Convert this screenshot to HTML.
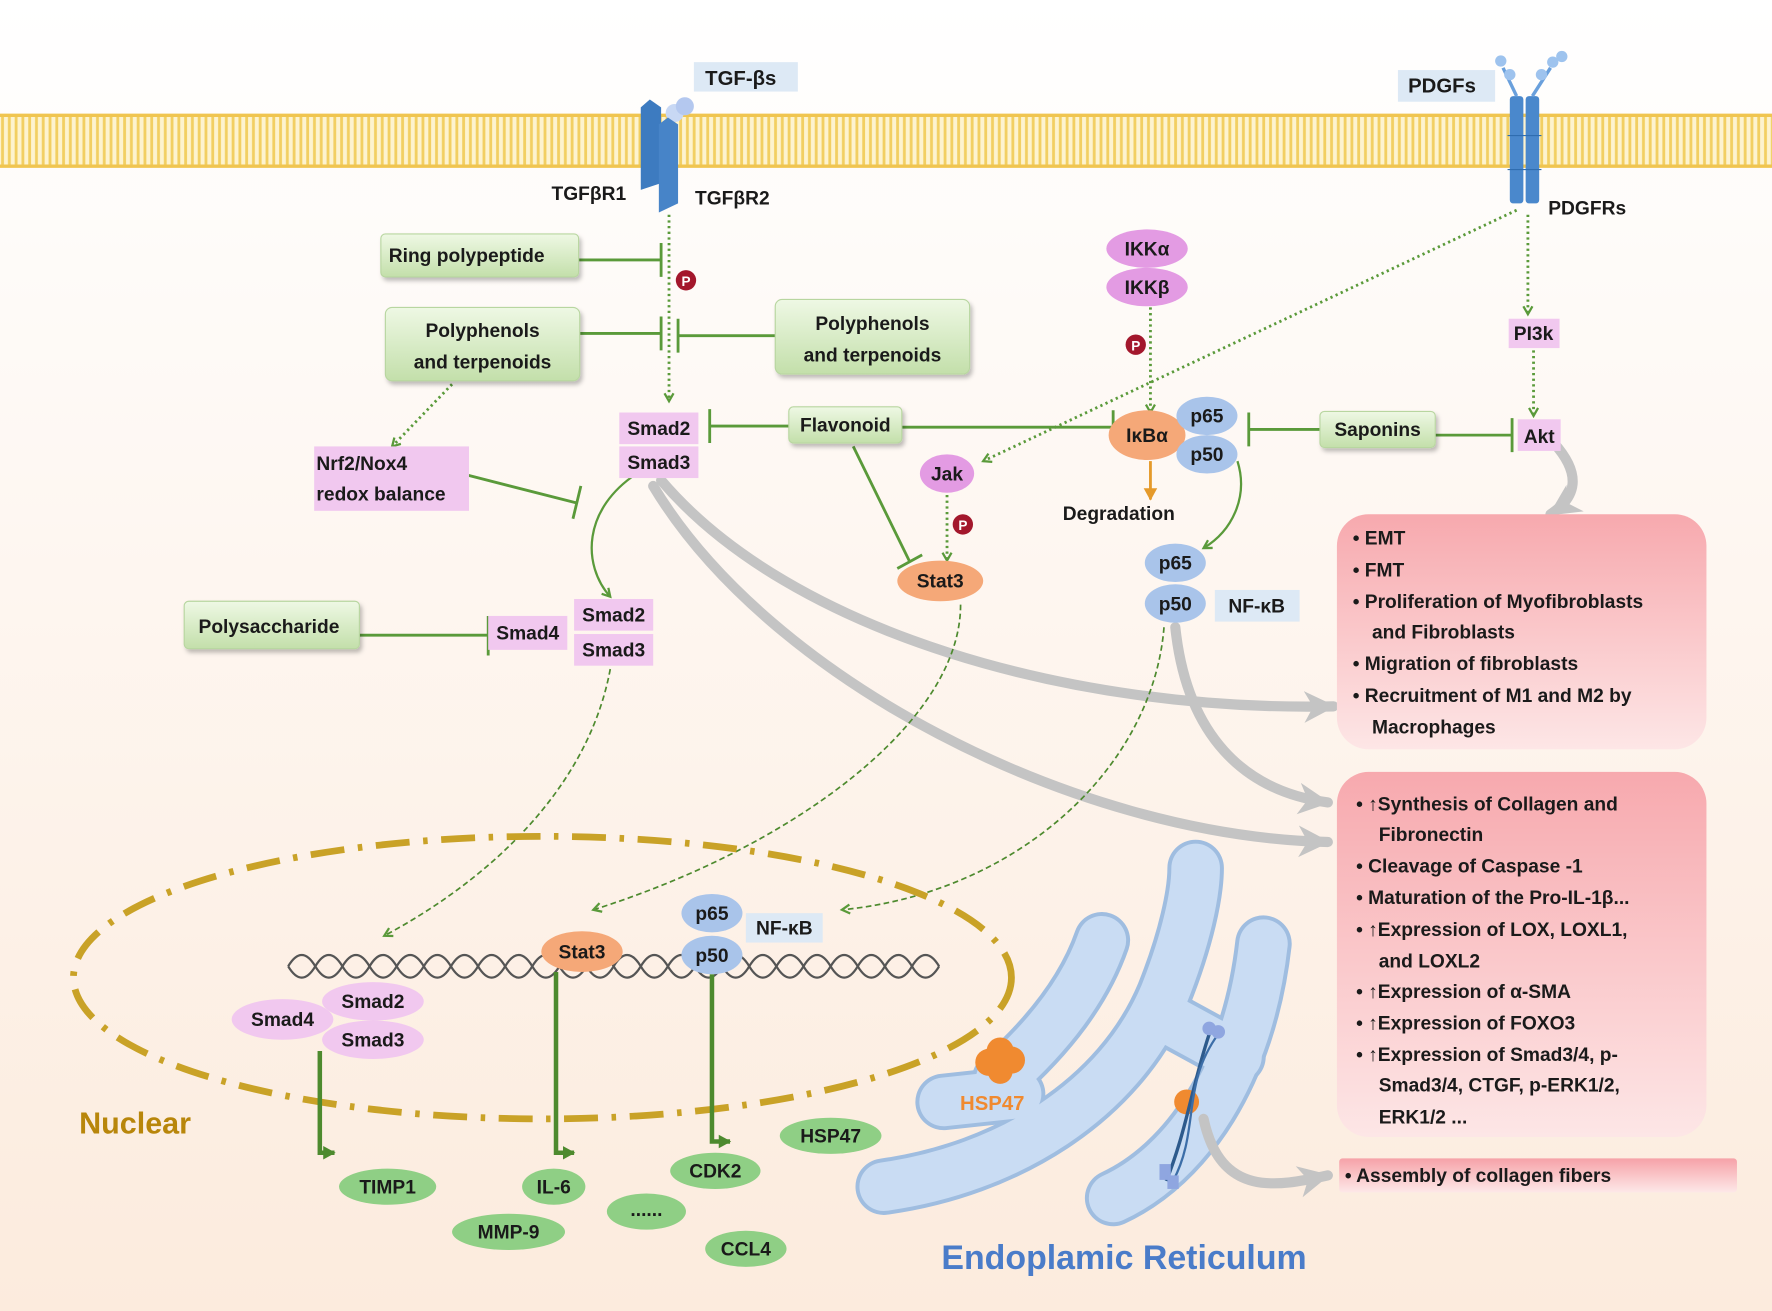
<!DOCTYPE html>
<html><head><meta charset="utf-8"><style>
html,body{margin:0;padding:0;background:#fff}
svg{display:block}
text{font-family:"Liberation Sans",sans-serif;font-weight:bold;fill:#1a1a1a}
</style></head><body>
<svg width="1772" height="1311" viewBox="0 0 1568 1160" preserveAspectRatio="none" xmlns="http://www.w3.org/2000/svg">
<defs>
<linearGradient id="bg" x1="0" y1="0" x2="0" y2="1"><stop offset="0" stop-color="#ffffff"/><stop offset="1" stop-color="#fcebdd"/></linearGradient>
<pattern id="mem" width="6" height="48" patternUnits="userSpaceOnUse"><rect width="6" height="48" fill="#fdf3cf"/><rect x="1" width="2.5" height="48" fill="#f2cf62"/></pattern>
<linearGradient id="gb" x1="0" y1="0" x2="0" y2="1"><stop offset="0" stop-color="#eef8e4"/><stop offset="1" stop-color="#c3dfaa"/></linearGradient>
<linearGradient id="rb" x1="0" y1="0" x2="0" y2="1"><stop offset="0" stop-color="#f7a9ae"/><stop offset="1" stop-color="#fde6e6"/></linearGradient>
<linearGradient id="rb2" x1="0" y1="0" x2="0" y2="1"><stop offset="0" stop-color="#f6a2a8"/><stop offset="1" stop-color="#fde8e8"/></linearGradient>
<marker id="ga" markerWidth="10" markerHeight="10" refX="8" refY="5" orient="auto" markerUnits="userSpaceOnUse"><path d="M1,1 L8,5 L1,9" fill="none" stroke="#5a9a3a" stroke-width="2"/></marker>
<marker id="gA" markerWidth="14" markerHeight="14" refX="10" refY="7" orient="auto" markerUnits="userSpaceOnUse"><path d="M0,1 L11,7 L0,13 Z" fill="#4d8a2e"/></marker>
<marker id="gr" markerWidth="40" markerHeight="40" refX="26" refY="20" orient="auto" markerUnits="userSpaceOnUse"><path d="M0,6 L28,20 L0,34 L8,20 Z" fill="#c4c4c4"/></marker>
<marker id="oa" markerWidth="14" markerHeight="14" refX="10" refY="7" orient="auto" markerUnits="userSpaceOnUse"><path d="M0,1 L11,7 L0,13 Z" fill="#e59a2a"/></marker>
<filter id="sh" x="-10%" y="-20%" width="130%" height="150%"><feDropShadow dx="2" dy="3" stdDeviation="2" flood-color="#000" flood-opacity="0.25"/></filter>
</defs>
<rect width="1568" height="1160" fill="url(#bg)"/>
<rect x="0" y="102" width="1568" height="45" fill="url(#mem)"/>
<line x1="0" y1="102" x2="1568" y2="102" stroke="#f0c550" stroke-width="3"/>
<line x1="0" y1="147" x2="1568" y2="147" stroke="#f0c550" stroke-width="3"/>
<circle cx="597" cy="100" r="8" fill="#c8d8f4"/><circle cx="606" cy="94" r="8" fill="#b4c8ef"/>
<path d="M567,95 L575,88 L585,95 L585,162 L567,168 Z" fill="#3d7bc0"/>
<path d="M583,110 L591,104 L600,110 L600,180 L583,188 Z" fill="#4784c8"/>
<rect x="614" y="55" width="92" height="26" fill="#dde9f5"/><text x="624" y="75" font-size="18">TGF-βs</text>
<text x="488" y="177" font-size="17">TGFβR1</text><text x="615" y="181" font-size="17">TGFβR2</text>
<g fill="#4a88cc">
<rect x="1336" y="85" width="12" height="95" rx="3"/><rect x="1350" y="85" width="12" height="95" rx="3"/>
</g>
<g stroke="#2f6db0" stroke-width="1"><line x1="1334" y1="120" x2="1364" y2="120"/><line x1="1334" y1="150" x2="1364" y2="150"/></g>
<g stroke="#6aa0dc" stroke-width="3" fill="none"><path d="M1342,85 L1330,60 M1356,85 L1372,60"/></g>
<g fill="#9ec3ee"><circle cx="1328" cy="54" r="5"/><circle cx="1336" cy="66" r="5"/><circle cx="1374" cy="55" r="5"/><circle cx="1364" cy="66" r="5"/><circle cx="1382" cy="50" r="5"/></g>
<rect x="1237" y="62" width="86" height="28" fill="#dde9f5"/><text x="1246" y="82" font-size="18">PDGFs</text>
<text x="1370" y="190" font-size="17">PDGFRs</text>
<g fill="none" stroke="#c4c4c4" stroke-width="9" stroke-linecap="round">
<path d="M585,425 C700,560 950,630 1180,625" marker-end="url(#gr)"/>
<path d="M578,430 C680,600 950,740 1175,745" marker-end="url(#gr)"/>
<path d="M1040,555 C1050,650 1100,700 1175,710" marker-end="url(#gr)"/>
<path d="M1375,392 C1400,420 1395,440 1372,455" marker-end="url(#gr)"/>
</g>
<g stroke="#5a9a3a" stroke-width="2.5" fill="none">
<path d="M512,230 L585,230 M585,215 L585,245"/>
<path d="M513,295 L585,295 M585,280 L585,310"/>
<path d="M686,297 L600,297 M600,282 L600,312"/>
<path d="M698,377 L628,377 M628,362 L628,392"/>
<path d="M798,378 L985,378 M985,363 L985,393"/>
<path d="M755,395 L805,497 M794,503 L816,491"/>
<path d="M1168,380 L1105,380 M1105,365 L1105,395"/>
<path d="M1270,385 L1338,385 M1338,370 L1338,400"/>
<path d="M412,420 L510,445 M514,430 L507,459"/>
<path d="M318,562 L432,562 M432,545 L432,580"/>
</g>
<g stroke="#5a9a3a" stroke-width="2.5" fill="none" stroke-dasharray="2 3">
<path d="M592,190 L592,355" marker-end="url(#ga)"/>
<path d="M400,340 L347,395" marker-end="url(#ga)"/>
<path d="M1342,186 L870,408" marker-end="url(#ga)"/>
<path d="M1352,190 L1352,278" marker-end="url(#ga)"/>
<path d="M1357,310 L1357,368" marker-end="url(#ga)"/>
<path d="M1018,272 L1018,365" marker-end="url(#ga)"/>
<path d="M838,438 L838,496" marker-end="url(#ga)"/>
</g>
<g stroke="#5a9a3a" stroke-width="2" fill="none">
<path d="M565,418 C515,450 515,500 540,528" marker-end="url(#ga)"/>
<path d="M1095,408 C1105,440 1090,470 1065,485" marker-end="url(#ga)"/>
</g>
<g stroke="#4d8a2e" stroke-width="1.5" fill="none" stroke-dasharray="5 3">
<path d="M540,592 C520,700 430,780 340,828" marker-end="url(#ga)"/>
<path d="M850,535 C850,640 700,750 525,805" marker-end="url(#ga)"/>
<path d="M1030,555 C1020,680 900,790 745,805" marker-end="url(#ga)"/>
</g>
<path d="M1018,408 L1018,442" stroke="#e59a2a" stroke-width="2.5" marker-end="url(#oa)"/>
<g filter="url(#sh)" fill="url(#gb)" stroke="#b8d6a0">
<rect x="337" y="207" width="175" height="38" rx="4"/>
<rect x="341" y="272" width="172" height="65" rx="6"/>
<rect x="686" y="265" width="172" height="66" rx="6"/>
<rect x="698" y="360" width="100" height="32" rx="4"/>
<rect x="1168" y="364" width="102" height="32" rx="4"/>
<rect x="163" y="532" width="155" height="42" rx="4"/>
</g>
<text x="344" y="232" font-size="17">Ring polypeptide</text>
<text x="427" y="298" font-size="17" text-anchor="middle">Polyphenols</text><text x="427" y="326" font-size="17" text-anchor="middle">and terpenoids</text>
<text x="772" y="292" font-size="17" text-anchor="middle">Polyphenols</text><text x="772" y="320" font-size="17" text-anchor="middle">and terpenoids</text>
<text x="748" y="382" font-size="17" text-anchor="middle">Flavonoid</text>
<text x="1219" y="386" font-size="17" text-anchor="middle">Saponins</text>
<text x="238" y="560" font-size="17" text-anchor="middle">Polysaccharide</text>
<g fill="#f1c8ef">
<rect x="548" y="365" width="70" height="28"/><rect x="548" y="395" width="70" height="28"/>
<rect x="278" y="395" width="137" height="57"/>
<rect x="432" y="545" width="70" height="30"/>
<rect x="508" y="530" width="70" height="28"/><rect x="508" y="561" width="70" height="28"/>
<rect x="1335" y="282" width="45" height="26"/><rect x="1343" y="371" width="38" height="28"/>
</g>
<text x="583" y="385" font-size="17" text-anchor="middle">Smad2</text><text x="583" y="415" font-size="17" text-anchor="middle">Smad3</text>
<text x="280" y="416" font-size="17">Nrf2/Nox4</text><text x="280" y="443" font-size="17">redox balance</text>
<text x="467" y="566" font-size="17" text-anchor="middle">Smad4</text>
<text x="543" y="550" font-size="17" text-anchor="middle">Smad2</text><text x="543" y="581" font-size="17" text-anchor="middle">Smad3</text>
<text x="1357" y="301" font-size="17" text-anchor="middle">PI3k</text><text x="1362" y="392" font-size="17" text-anchor="middle">Akt</text>
<ellipse cx="1015" cy="220" rx="36" ry="17" fill="#e39be3"/><text x="1015" y="226" font-size="17" text-anchor="middle">IKKα</text>
<ellipse cx="1015" cy="254" rx="36" ry="17" fill="#e39be3"/><text x="1015" y="260" font-size="17" text-anchor="middle">IKKβ</text>
<g fill="#a3172c"><circle cx="607" cy="248" r="9"/><circle cx="1005" cy="305" r="9"/><circle cx="852" cy="464" r="9"/></g>
<g font-size="12"><text x="607" y="253" text-anchor="middle" style="fill:#fff">P</text><text x="1005" y="310" text-anchor="middle" style="fill:#fff">P</text><text x="852" y="469" text-anchor="middle" style="fill:#fff">P</text></g>
<ellipse cx="1015" cy="385" rx="34" ry="22" fill="#f5a878"/><text x="1015" y="391" font-size="17" text-anchor="middle">IκBα</text>
<ellipse cx="1068" cy="368" rx="27" ry="17" fill="#a9c4ea"/><text x="1068" y="374" font-size="17" text-anchor="middle">p65</text>
<ellipse cx="1068" cy="402" rx="27" ry="17" fill="#a9c4ea"/><text x="1068" y="408" font-size="17" text-anchor="middle">p50</text>
<text x="990" y="460" font-size="17" text-anchor="middle">Degradation</text>
<ellipse cx="838" cy="419" rx="24" ry="17" fill="#e39be3"/><text x="838" y="425" font-size="17" text-anchor="middle">Jak</text>
<ellipse cx="832" cy="514" rx="38" ry="18" fill="#f5a878"/><text x="832" y="520" font-size="17" text-anchor="middle">Stat3</text>
<ellipse cx="1040" cy="498" rx="27" ry="17" fill="#a9c4ea"/><text x="1040" y="504" font-size="17" text-anchor="middle">p65</text>
<ellipse cx="1040" cy="534" rx="27" ry="17" fill="#a9c4ea"/><text x="1040" y="540" font-size="17" text-anchor="middle">p50</text>
<rect x="1075" y="522" width="75" height="28" fill="#dde9f5"/><text x="1112" y="542" font-size="17" text-anchor="middle">NF-κB</text>
<rect x="1183" y="455" width="327" height="208" rx="28" fill="url(#rb)"/>
<rect x="1183" y="683" width="327" height="323" rx="28" fill="url(#rb)"/>
<rect x="1185" y="1025" width="352" height="30" rx="3" fill="url(#rb2)"/>
<g font-size="17">
<text x="1197" y="482">•  EMT</text>
<text x="1197" y="510">•  FMT</text>
<text x="1197" y="538">•  Proliferation of Myofibroblasts</text>
<text x="1214" y="565">and Fibroblasts</text>
<text x="1197" y="593">•  Migration of fibroblasts</text>
<text x="1197" y="621">•  Recruitment of M1 and M2 by</text>
<text x="1214" y="649">Macrophages</text>
<text x="1200" y="717">•  ↑Synthesis of Collagen and</text>
<text x="1220" y="744">Fibronectin</text>
<text x="1200" y="772">•  Cleavage of Caspase -1</text>
<text x="1200" y="800">•  Maturation of the Pro-IL-1β...</text>
<text x="1200" y="828">•  ↑Expression of LOX, LOXL1,</text>
<text x="1220" y="856">and LOXL2</text>
<text x="1200" y="883">•  ↑Expression of α-SMA</text>
<text x="1200" y="911">•  ↑Expression of FOXO3</text>
<text x="1200" y="939">•  ↑Expression of Smad3/4, p-</text>
<text x="1220" y="966">Smad3/4, CTGF, p-ERK1/2,</text>
<text x="1220" y="994">ERK1/2 ...</text>
<text x="1190" y="1046">•  Assembly of collagen fibers</text>
</g>
<!-- ER built from stroked bands -->
<g fill="none" stroke-linecap="round" stroke-linejoin="round">
<g stroke="#9fbde0" stroke-width="50">
<path d="M782,1050 C890,1035 990,975 1030,880 C1050,830 1058,790 1058,768"/>
<path d="M835,975 L900,968"/>
<path d="M885,955 C930,915 960,875 975,832"/>
<path d="M985,1060 C1050,1030 1105,950 1118,835"/>
<path d="M1040,905 L1095,935"/>
</g>
<g stroke="#c9dcf3" stroke-width="43">
<path d="M782,1050 C890,1035 990,975 1030,880 C1050,830 1058,790 1058,768"/>
<path d="M835,975 L900,968"/>
<path d="M885,955 C930,915 960,875 975,832"/>
<path d="M985,1060 C1050,1030 1105,950 1118,835"/>
<path d="M1040,905 L1095,935"/>
</g>
</g>
<path d="M1065,990 C1080,1060 1130,1050 1175,1040" fill="none" stroke="#c4c4c4" stroke-width="9" stroke-linecap="round" marker-end="url(#gr)"/>
<g fill="#f08a30"><circle cx="875" cy="940" r="12"/><circle cx="895" cy="938" r="12"/><circle cx="885" cy="930" r="12"/><circle cx="885" cy="948" r="11"/><circle cx="1050" cy="975" r="11"/></g>
<path d="M1032,1045 C1050,1000 1055,960 1070,915" stroke="#2d5a8c" stroke-width="3" fill="none"/>
<path d="M1038,1045 C1062,1000 1045,960 1078,915" stroke="#3c6ea8" stroke-width="2" fill="none"/>
<g fill="#8fa6e0"><circle cx="1070" cy="910" r="6"/><circle cx="1078" cy="913" r="6"/><rect x="1026" y="1030" width="10" height="14"/><rect x="1033" y="1040" width="10" height="12"/></g>
<text x="878" y="982" font-size="18" text-anchor="middle" style="fill:#f08a30">HSP47</text>
<text x="833" y="1123" font-size="30" style="fill:#4a7cc9">Endoplamic Reticulum</text>
<ellipse cx="480" cy="865" rx="415" ry="125" fill="none" stroke="#c9a227" stroke-width="6" stroke-dasharray="30 12 4 12"/>
<path d="M255,855 q12,-20 24,0 t24,0 t24,0 t24,0 t24,0 t24,0 t24,0 t24,0 t24,0 t24,0 t24,0 t24,0 t24,0 t24,0 t24,0 t24,0 t24,0 t24,0 t24,0 t24,0 t24,0 t24,0 t24,0 t24,0" fill="none" stroke="#555" stroke-width="2"/>
<path d="M255,855 q12,20 24,0 t24,0 t24,0 t24,0 t24,0 t24,0 t24,0 t24,0 t24,0 t24,0 t24,0 t24,0 t24,0 t24,0 t24,0 t24,0 t24,0 t24,0 t24,0 t24,0 t24,0 t24,0 t24,0 t24,0" fill="none" stroke="#555" stroke-width="2"/>
<g stroke="#4d8a2e" stroke-width="4" fill="none">
<path d="M283,930 L283,1020 L296,1020" marker-end="url(#gA)"/>
<path d="M492,860 L492,1020 L508,1020" marker-end="url(#gA)"/>
<path d="M630,862 L630,1010 L646,1010" marker-end="url(#gA)"/>
</g>
<ellipse cx="250" cy="902" rx="45" ry="18" fill="#f1c8ef"/><text x="250" y="908" font-size="17" text-anchor="middle">Smad4</text>
<ellipse cx="330" cy="886" rx="45" ry="17" fill="#f1c8ef"/><text x="330" y="892" font-size="17" text-anchor="middle">Smad2</text>
<ellipse cx="330" cy="920" rx="45" ry="17" fill="#f1c8ef"/><text x="330" y="926" font-size="17" text-anchor="middle">Smad3</text>
<ellipse cx="515" cy="842" rx="36" ry="18" fill="#f5a878"/><text x="515" y="848" font-size="17" text-anchor="middle">Stat3</text>
<ellipse cx="630" cy="808" rx="27" ry="17" fill="#a9c4ea"/><text x="630" y="814" font-size="17" text-anchor="middle">p65</text>
<ellipse cx="630" cy="845" rx="27" ry="17" fill="#a9c4ea"/><text x="630" y="851" font-size="17" text-anchor="middle">p50</text>
<rect x="660" y="808" width="68" height="26" fill="#dde9f5"/><text x="694" y="827" font-size="17" text-anchor="middle">NF-κB</text>
<g fill="#8fcf85">
<ellipse cx="343" cy="1050" rx="43" ry="16"/><ellipse cx="490" cy="1050" rx="28" ry="16"/><ellipse cx="450" cy="1090" rx="50" ry="16"/>
<ellipse cx="633" cy="1036" rx="40" ry="16"/><ellipse cx="572" cy="1072" rx="35" ry="16"/><ellipse cx="660" cy="1105" rx="36" ry="16"/><ellipse cx="735" cy="1005" rx="45" ry="16"/>
</g>
<g font-size="17" text-anchor="middle">
<text x="343" y="1056">TIMP1</text><text x="490" y="1056">IL-6</text><text x="450" y="1096">MMP-9</text>
<text x="633" y="1042">CDK2</text><text x="572" y="1076">......</text><text x="660" y="1111">CCL4</text><text x="735" y="1011">HSP47</text>
</g>
<text x="70" y="1003" font-size="27" style="fill:#b8860b">Nuclear</text>
</svg>
</body></html>
